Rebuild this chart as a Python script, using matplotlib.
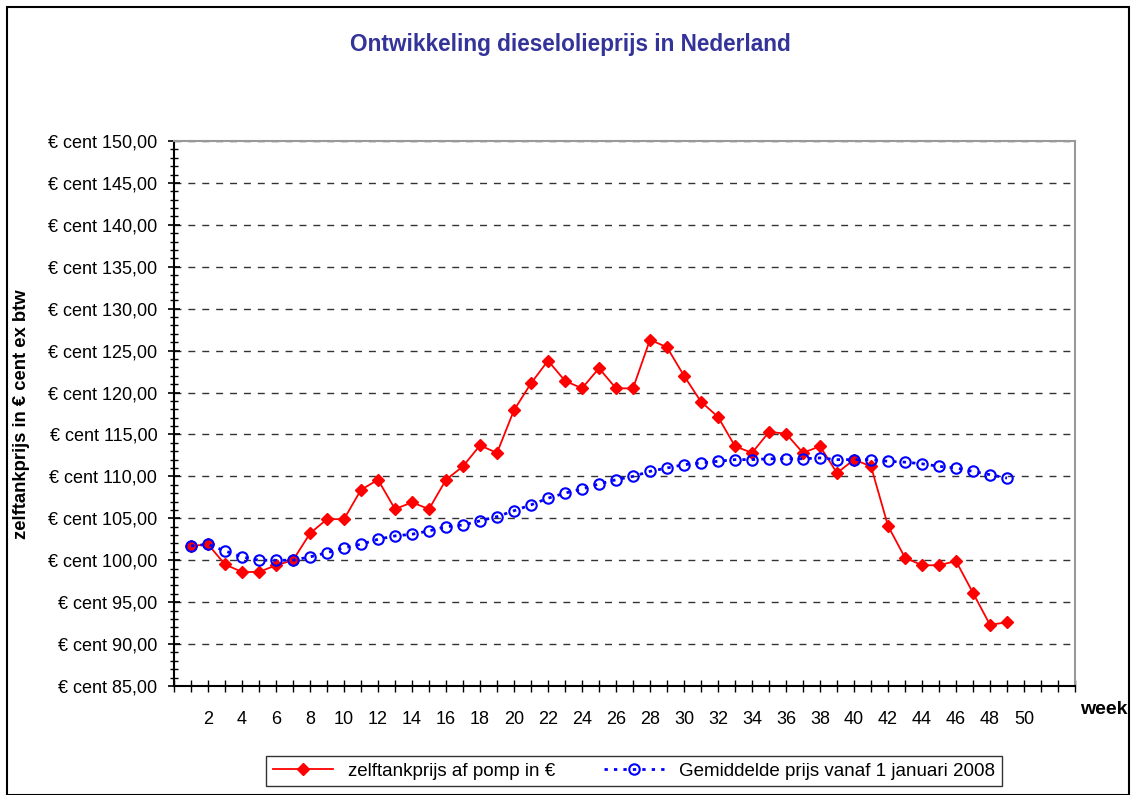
import matplotlib
matplotlib.use("Agg")
import matplotlib.pyplot as plt
from matplotlib.patches import Rectangle
from matplotlib.ticker import MultipleLocator

plt.rcParams['font.family'] = ['Liberation Sans', 'DejaVu Sans']

weeks = list(range(1, 50))
pump_price = [101.7, 101.9, 99.5, 98.6, 98.6, 99.4, 100.0, 103.2, 104.9, 104.9,
              108.4, 109.6, 106.1, 106.9, 106.1, 109.6, 111.2, 113.7, 112.8, 117.9,
              121.1, 123.8, 121.4, 120.5, 122.9, 120.5, 120.5, 126.3, 125.4, 122.0,
              118.9, 117.1, 113.6, 112.8, 115.3, 115.1, 112.8, 113.6, 110.4, 112.0,
              111.2, 104.1, 100.3, 99.4, 99.4, 99.9, 96.1, 92.3, 92.6]
avg_price = [101.7, 101.9, 101.1, 100.4, 100.0, 100.0, 100.0, 100.4, 100.9, 101.5,
             101.9, 102.5, 102.9, 103.1, 103.5, 104.0, 104.2, 104.7, 105.2, 105.9,
             106.6, 107.4, 108.0, 108.5, 109.1, 109.6, 110.0, 110.6, 111.0, 111.4,
             111.6, 111.8, 112.0, 112.0, 112.1, 112.1, 112.1, 112.2, 112.0, 112.0,
             112.0, 111.8, 111.7, 111.5, 111.2, 111.0, 110.6, 110.2, 109.8]
x_max = 53
week_labels = list(range(2, 51, 2))
y_ticks = list(range(85, 151, 5))

title = "Ontwikkeling dieselolieprijs in Nederland"
ylabel = "zelftankprijs in € cent ex btw"
xlabel = "week"
series_names = ["zelftankprijs af pomp in €", "Gemiddelde prijs vanaf 1 januari 2008"]

fig = plt.figure(figsize=(11.32, 7.95), dpi=100)
fig.patches.append(Rectangle((7/1132, 0.0), 1122/1132, 1 - 7/795, transform=fig.transFigure,
                             fill=False, edgecolor='black', linewidth=1.5))

ax = fig.add_axes([174/1132, 1 - 686/795, (1075 - 174)/1132, (686 - 141)/795])
ax.set_xlim(0, x_max)
ax.set_ylim(85, 150)

for y in y_ticks[1:]:
    ax.axhline(y, color='#333333', linestyle=(0, (5, 5)), linewidth=1.0, zorder=1)

l1, = ax.plot(weeks, pump_price, color='#FF0000', linewidth=1.3, marker='D',
              markersize=6.5, markerfacecolor='#FF0000', markeredgecolor='#FF0000', zorder=3)
l2, = ax.plot(weeks, avg_price, color='#0000FF', linewidth=2.0, linestyle=(0, (1.2, 2.2)),
              marker='o', markersize=7.5, markerfacecolor='none', markeredgecolor='#0000FF',
              markeredgewidth=1.5, zorder=4)

ax.set_yticks(y_ticks)
ax.set_yticklabels(["€ cent %d,00" % v for v in y_ticks], fontsize=13)
ax.yaxis.set_minor_locator(MultipleLocator(1))
ax.tick_params(axis='y', which='major', direction='inout', length=8, width=1.2, pad=8)
ax.tick_params(axis='y', which='minor', direction='inout', length=6, width=1.0)

xt = list(range(0, x_max + 1))
ax.set_xticks(xt)
ax.set_xticklabels([str(w) if w in week_labels else "" for w in xt], fontsize=13)
ax.tick_params(axis='x', which='major', direction='inout', length=8, width=1.0, pad=14)

ax.spines['left'].set_linewidth(1.5)
ax.spines['bottom'].set_linewidth(1.5)
ax.spines['top'].set_color('#999999')
ax.spines['right'].set_color('#999999')
ax.spines['top'].set_linewidth(1.5)
ax.spines['right'].set_linewidth(1.5)

fig.text(570/1132, 1 - 45/795, title, ha='center', va='center', fontsize=16.3,
         fontweight='bold', color='#333399')
fig.text(22/1132, 1 - 414/795, ylabel, ha='center', va='center', rotation=90,
         fontsize=13.3, fontweight='bold')
fig.text(1104/1132, 1 - 709/795, xlabel, ha='center', va='center', fontsize=14,
         fontweight='bold')

leg = fig.legend([l1, l2], series_names, loc='center', ncol=2,
                 bbox_to_anchor=(634/1132, 1 - 771/795), fontsize=13.5, frameon=True,
                 fancybox=False, edgecolor='black', handlelength=3.2, columnspacing=2.6,
                 borderpad=0.35)
leg.get_frame().set_linewidth(1.0)

fig.savefig("out.png", dpi=100)
